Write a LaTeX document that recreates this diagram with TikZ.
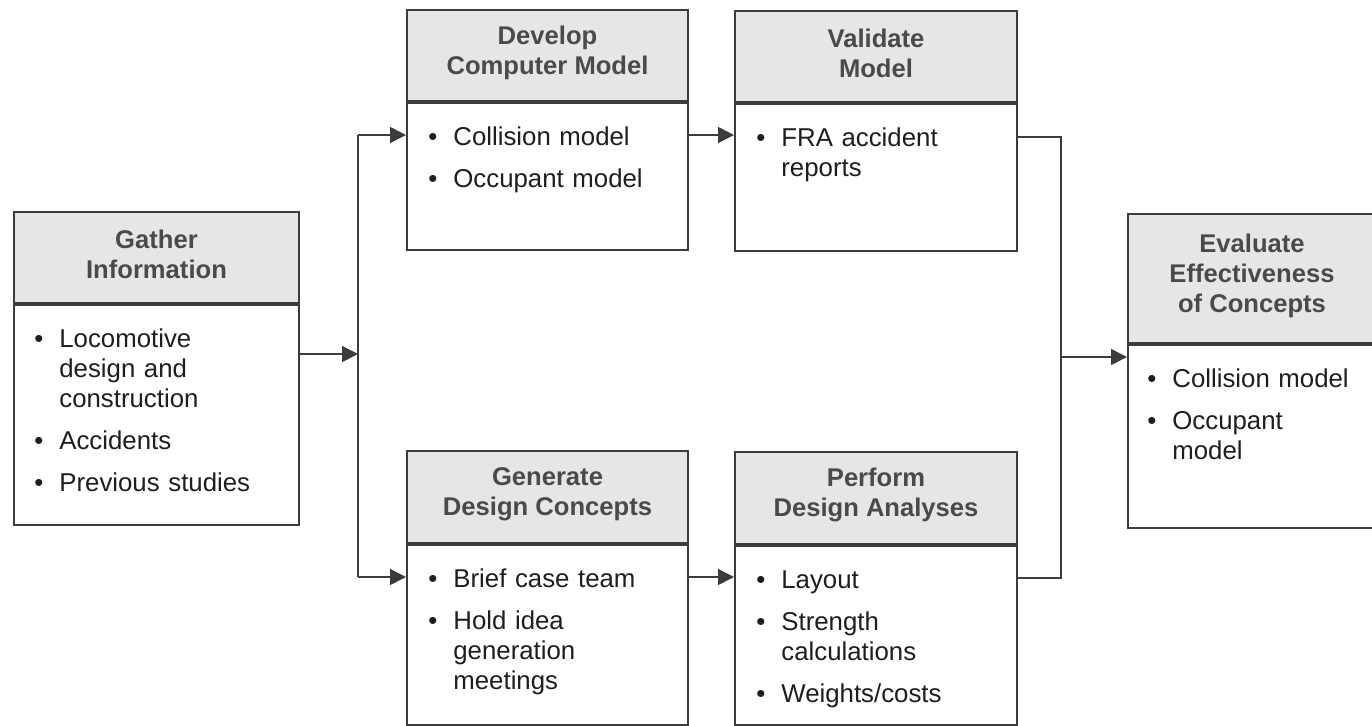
\documentclass[tikz,border=0pt]{standalone}
\usepackage{fontspec}
\setmainfont{Liberation Sans}
\usetikzlibrary{arrows.meta}
\definecolor{linec}{HTML}{3C3C3C}
\definecolor{hdrfill}{HTML}{E6E6E6}
\definecolor{hdrtext}{HTML}{4A4A4A}
\definecolor{bodytext}{HTML}{1E1E1E}
\newcommand\bitem[1]{\par\noindent\hangindent=12.5pt\hangafter=1\makebox[12.5pt][l]{\textbullet}#1\par}
\newcommand\isep{\vspace{6pt}}
\begin{document}
\begin{tikzpicture}[x=0.5pt,y=-0.5pt,
 hdr/.style={draw=linec, line width=1pt, fill=hdrfill, anchor=north west, inner sep=0pt},
 htext/.style={inner sep=0pt, text=hdrtext, align=center, font=\bfseries\fontsize{12.8}{15}\selectfont},
 bodybox/.style={draw=linec, line width=1pt, fill=white, anchor=north west, inner sep=0pt},
 btext/.style={anchor=north west, inner sep=0pt, text width=150pt, align=left, text=bodytext, font=\fontsize{12.9}{15}\selectfont},
 conn/.style={draw=linec, line width=0.8pt},
 arr/.style={conn, -{Triangle[length=8pt,width=8pt]}}
]
\useasboundingbox[fill=white] (0,0) rectangle (1372,725);

% Gather Information
\node[hdr, minimum width=142.5pt, minimum height=45.5pt] (gh) at (13,211) {};
\node[htext] (ght) at ([yshift=1.5pt]gh.center) {Gather\\Information};
\node[bodybox, minimum width=142.5pt, minimum height=110pt] (gb) at (gh.south west) {};
\node[btext] (gt) at (34,317) {\bitem{Locomotive\newline design and\newline construction}\isep\bitem{Accidents}\isep\bitem{Previous studies}};

% Develop Computer Model
\node[hdr, minimum width=140.5pt, minimum height=45.5pt] (dh) at (406,9) {};
\node[htext] (dht) at ([yshift=1.5pt]dh.center) {Develop\\Computer Model};
\node[bodybox, minimum width=140.5pt, minimum height=73.5pt] (db) at (dh.south west) {};
\node[btext] (dt) at (428,115) {\bitem{Collision model}\isep\bitem{Occupant model}};

% Validate Model
\node[hdr, minimum width=141pt, minimum height=45.5pt] (vh) at (734,10) {};
\node[htext] (vht) at ([yshift=1.5pt]vh.center) {Validate\\Model};
\node[bodybox, minimum width=141pt, minimum height=73.5pt] (vb) at (vh.south west) {};
\node[btext] (vt) at (756,116) {\bitem{FRA accident\newline reports}};

% Generate Design Concepts
\node[hdr, minimum width=140.5pt, minimum height=46pt] (nh) at (406,450) {};
\node[htext] (nht) at ([yshift=1.5pt]nh.center) {Generate\\Design Concepts};
\node[bodybox, minimum width=140.5pt, minimum height=90pt] (nb) at (nh.south west) {};
\node[btext] (nt) at (428,557) {\bitem{Brief case team}\isep\bitem{Hold idea\newline generation\newline meetings}};

% Perform Design Analyses
\node[hdr, minimum width=141pt, minimum height=46pt] (ph) at (734,451) {};
\node[htext] (pht) at ([yshift=1.5pt]ph.center) {Perform\\Design Analyses};
\node[bodybox, minimum width=141pt, minimum height=89.5pt] (pb) at (ph.south west) {};
\node[btext] (pt) at (756,558) {\bitem{Layout}\isep\bitem{Strength\newline calculations}\isep\bitem{Weights/costs}};

% Evaluate Effectiveness of Concepts
\node[hdr, minimum width=124pt, minimum height=64.5pt] (eh) at (1127,213) {};
\node[htext] (eht) at ([yshift=1.5pt]eh.center) {Evaluate\\Effectiveness\\of Concepts};
\node[bodybox, minimum width=124pt, minimum height=91.5pt] (eb) at (eh.south west) {};
\node[btext] (et) at (1147,357) {\bitem{Collision model}\isep\bitem{Occupant\newline model}};

% connectors
\coordinate (jm) at (358,354);
\coordinate (jt) at (358,135);
\coordinate (jb) at (358,577);
\draw[arr] (gb.east |- jm) -- (jm);
\draw[conn] (jt) -- (jb);
\draw[arr] (jt) -- (db.west |- jt);
\draw[arr] (jb) -- (nb.west |- jb);
\draw[arr] (db.east |- jt) -- (vb.west |- jt);
\draw[arr] (nb.east |- jb) -- (pb.west |- jb);
\coordinate (kt) at (1061,137);
\coordinate (kb) at (1061,578);
\coordinate (km) at (1061,357);
\draw[conn] (vb.east |- kt) -- (kt) -- (kb) -- (pb.east |- kb);
\draw[arr] (km) -- (eb.west |- km);
\end{tikzpicture}
\end{document}
